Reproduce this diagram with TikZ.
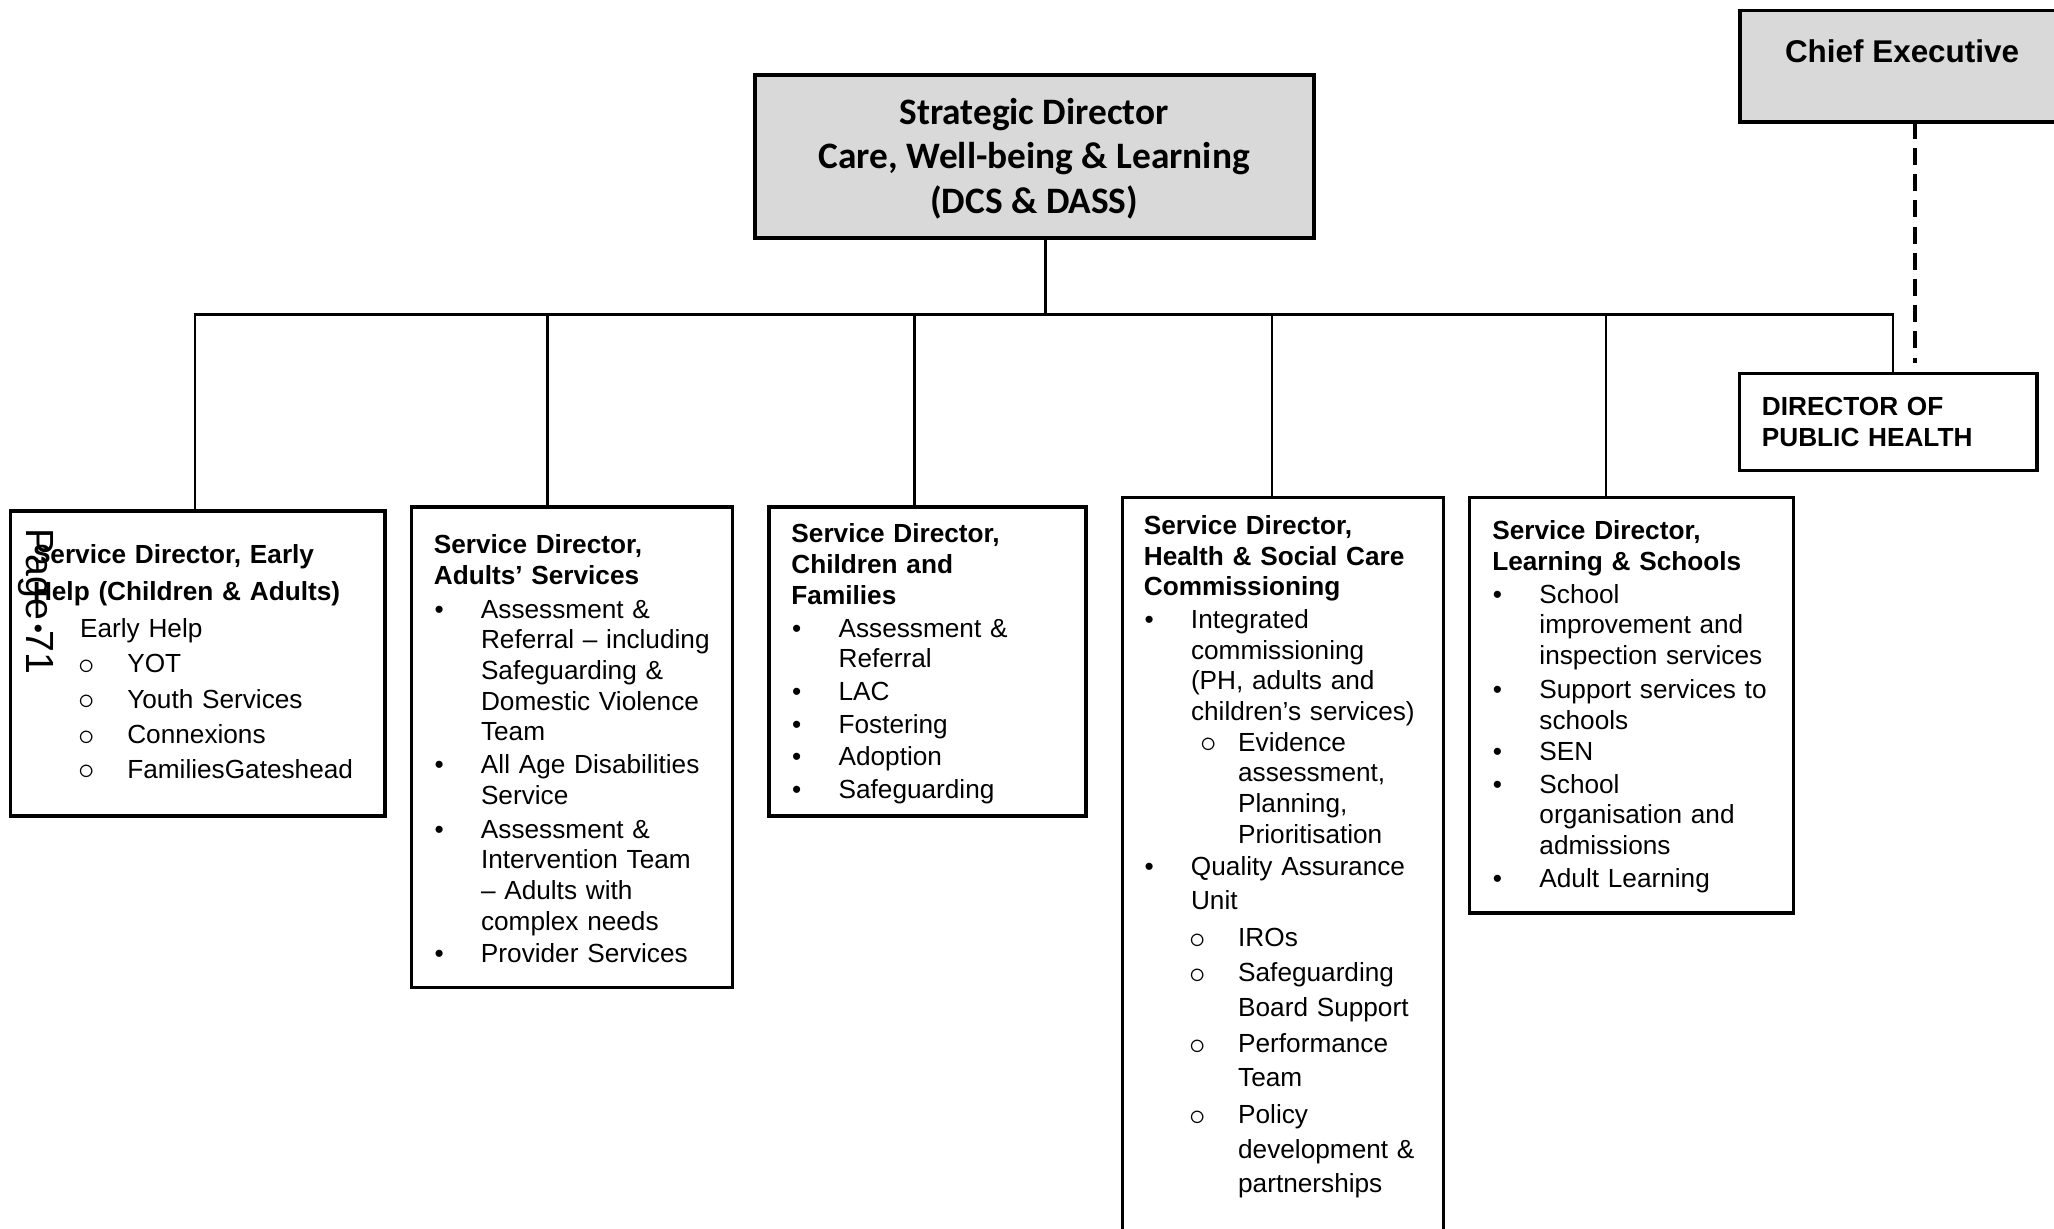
\documentclass[tikz,border=0pt]{standalone}
\usepackage{fontspec}
\setmainfont{Liberation Sans}
\newfontfamily\calibri{Carlito}
\definecolor{headgray}{HTML}{D9D9D9}
% list markers
\newcommand{\bul}{\hspace*{0.5pt}\makebox[35.5pt][l]{\textbullet}}
\newcommand{\contline}{\hspace*{36pt}}
\newcommand{\ring}{\smash{\raisebox{-1.4pt}{\fontsize{24}{24}\selectfont$\circ$}}}
\newcommand{\circo}{\hspace*{35pt}\makebox[37pt][l]{\ring}}
\newcommand{\circi}{\hspace*{43pt}\makebox[29pt][l]{\ring}}
\newcommand{\subcont}{\hspace*{72pt}}
\begin{document}
\begin{tikzpicture}[x=1pt,y=-1pt,
	headbox/.style={draw, line width=3pt, fill=headgray, anchor=north west, inner sep=0, outer sep=0},
	unitbox/.style={draw, line width=2.5pt, anchor=north west, inner sep=0, outer sep=0},
	unittext/.style={anchor=base west, text width=280pt, align=left, inner sep=0, font=\fontsize{20}{23.4}\selectfont},
	link/.style={line width=2pt},
	dotlink/.style={line width=3pt, dash pattern=on 13pt off 7pt}]
	\useasboundingbox (0,0) rectangle (1568,938);
	\clip (0,0) rectangle (1568,938);
	
	%vezetők
	\node[headbox, minimum width=427pt, minimum height=125pt] (sd) at (576,57) {};
	\node[align=center, font=\calibri\bfseries\fontsize{28.5}{34}\selectfont] (sdtxt) at (789.5,121)
		{Strategic Director\\Care, Well-being \& Learning\\(DCS \& DASS)};
	\node[headbox, minimum width=290pt, minimum height=85pt] (ce) at (1328,8) {};
	\node[font=\bfseries\fontsize{24}{28}\selectfont] (cetxt) at (1452,39) {Chief Executive};
	\node[unitbox, minimum width=227pt, minimum height=74pt, text width=193pt, inner xsep=17pt,
		align=left, font=\bfseries\fontsize{20}{24}\selectfont] (dph) at (1328,285)
		{DIRECTOR OF\\PUBLIC HEALTH};
	
	%osztályok
	\node[unitbox, minimum width=286pt, minimum height=233pt] (early) at (8,390) {};
	\node[unitbox, minimum width=245pt, minimum height=367pt] (adults) at (314,387) {};
	\node[unitbox, minimum width=242pt, minimum height=236pt] (children) at (587,387) {};
	\node[unitbox, minimum width=245pt, minimum height=600pt] (health) at (857,380) {};
	\node[unitbox, minimum width=247pt, minimum height=317pt] (learning) at (1122,380) {};
	
	%vonalak
	\coordinate (top) at (798,240);
	\coordinate (bus1) at (149,240);
	\coordinate (bus2) at (418,240);
	\coordinate (bus3) at (698,240);
	\coordinate (bus4) at (971,240);
	\coordinate (bus5) at (1226,240);
	\coordinate (bus6) at (1445,240);
	\coordinate (cedrop) at (1462,93);
	\draw[link] (bus1 |- early.north) -- (bus1) -- (bus6) -- (bus6 |- dph.north);
	\draw[link] (top) -- (top |- sd.south);
	\draw[link] (bus2) -- (bus2 |- adults.north);
	\draw[link] (bus3) -- (bus3 |- children.north);
	\draw[link] (bus4) -- (bus4 |- health.north);
	\draw[link] (bus5) -- (bus5 |- learning.north);
	\draw[dotlink, shorten >=8pt] (cedrop) -- (cedrop |- dph.north);
	
	%feliratok
	\node[unittext, font=\fontsize{20}{27}\selectfont] (earlytxt) at (25,430.5)
		{\textbf{Service Director, Early}\\[1pt]
		\textbf{Help (Children \& Adults)}\\[1pt]
		\bul Early Help\\
		\circo YOT\\
		\circo Youth Services\\
		\circo Connexions\\[-0.5pt]
		\circo FamiliesGateshead};
	\node[unittext] (adultstxt) at (331,422.5)
		{\textbf{Service Director,}\\
		\textbf{Adults’ Services}\\[2.6pt]
		\bul Assessment \&\\
		\contline Referral – including\\
		\contline Safeguarding \&\\
		\contline Domestic Violence\\
		\contline Team\\[1.6pt]
		\bul All Age Disabilities\\
		\contline Service\\[2.6pt]
		\bul Assessment \&\\
		\contline Intervention Team\\
		\contline – Adults with\\
		\contline complex needs\\[1pt]
		\bul Provider Services};
	\node[unittext] (childrentxt) at (604,414.5)
		{\textbf{Service Director,}\\
		\textbf{Children and}\\
		\textbf{Families}\\[1.6pt]
		\bul Assessment \&\\
		\contline Referral\\[1.6pt]
		\bul LAC\\[1.6pt]
		\bul Fostering\\[1.6pt]
		\bul Adoption\\[1.6pt]
		\bul Safeguarding};
	\node[unittext] (healthtxt) at (873,408)
		{\textbf{Service Director,}\\
		\textbf{Health \& Social Care}\\
		\textbf{Commissioning}\\[1.6pt]
		\bul Integrated\\
		\contline commissioning\\
		\contline (PH, adults and\\
		\contline children’s services)\\
		\circi Evidence\\
		\subcont assessment,\\
		\subcont Planning,\\
		\subcont Prioritisation\\[1.6pt]
		\bul Quality Assurance\\[2.6pt]
		\contline Unit\\[4.6pt]
		\circo IROs\\[3.6pt]
		\circo Safeguarding\\[2.6pt]
		\subcont Board Support\\[4.6pt]
		\circo Performance\\[2.6pt]
		\subcont Team\\[4.6pt]
		\circo Policy\\[3.6pt]
		\subcont development \&\\[2.6pt]
		\subcont partnerships};
	\node[unittext] (learningtxt) at (1139,412)
		{\textbf{Service Director,}\\
		\textbf{Learning \& Schools}\\[1.6pt]
		\bul School\\
		\contline improvement and\\
		\contline inspection services\\[2.6pt]
		\bul Support services to\\
		\contline schools\\[0.6pt]
		\bul SEN\\[1.6pt]
		\bul School\\
		\contline organisation and\\
		\contline admissions\\[1.6pt]
		\bul Adult Learning};
	\node[rotate=-90, anchor=base west, inner sep=0, font=\fontsize{30}{36}\selectfont] (pagenum) at (20.5,403) {Page 71};
\end{tikzpicture}
\end{document}
